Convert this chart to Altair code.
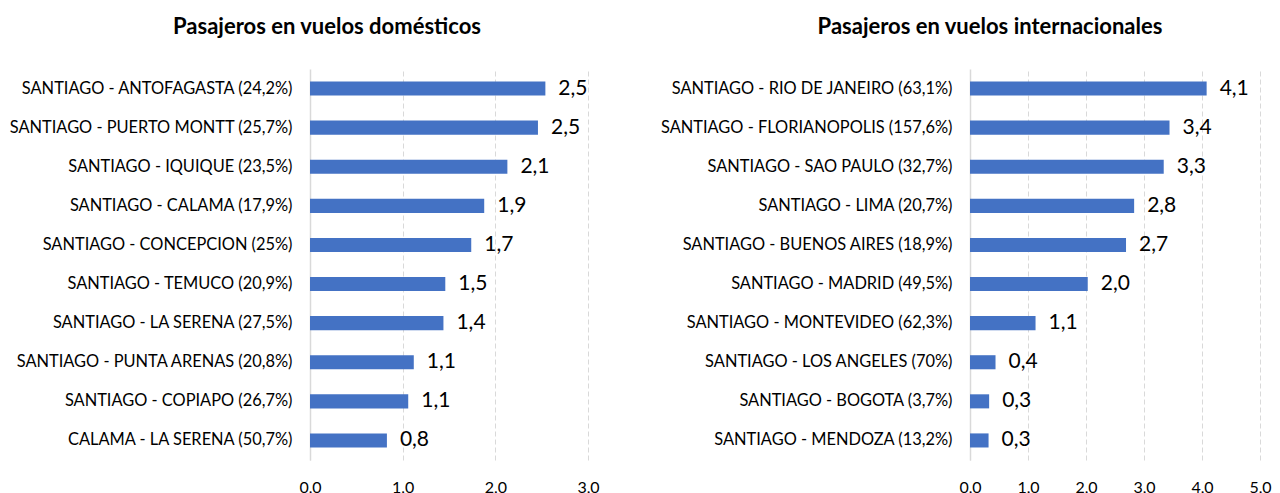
import altair as alt
import pandas as pd

dom_routes = [
    "SANTIAGO - ANTOFAGASTA (24,2%)",
    "SANTIAGO - PUERTO MONTT (25,7%)",
    "SANTIAGO - IQUIQUE (23,5%)",
    "SANTIAGO - CALAMA (17,9%)",
    "SANTIAGO - CONCEPCION (25%)",
    "SANTIAGO - TEMUCO (20,9%)",
    "SANTIAGO - LA SERENA (27,5%)",
    "SANTIAGO - PUNTA ARENAS (20,8%)",
    "SANTIAGO - COPIAPO (26,7%)",
    "CALAMA - LA SERENA (50,7%)",
]
dom_values = [2.54, 2.46, 2.13, 1.88, 1.74, 1.46, 1.44, 1.12, 1.06, 0.83]

int_routes = [
    "SANTIAGO - RIO DE JANEIRO (63,1%)",
    "SANTIAGO - FLORIANOPOLIS (157,6%)",
    "SANTIAGO - SAO PAULO (32,7%)",
    "SANTIAGO - LIMA (20,7%)",
    "SANTIAGO - BUENOS AIRES (18,9%)",
    "SANTIAGO - MADRID (49,5%)",
    "SANTIAGO - MONTEVIDEO (62,3%)",
    "SANTIAGO - LOS ANGELES (70%)",
    "SANTIAGO - BOGOTA (3,7%)",
    "SANTIAGO - MENDOZA (13,2%)",
]
int_values = [4.08, 3.44, 3.34, 2.83, 2.69, 2.03, 1.13, 0.44, 0.33, 0.32]

dom_title = "Pasajeros en vuelos domésticos"
int_title = "Pasajeros en vuelos internacionales"

FONT = "Lato"


def panel(routes, values, title, xmax, width, extent, dx):
    df = pd.DataFrame({
        "ruta": routes,
        "valor": values,
        "etiqueta": [f"{v:.1f}".replace(".", ",") for v in values],
    })
    y = alt.Y(
        "ruta:N", sort=routes, title=None,
        scale=alt.Scale(paddingInner=0.64, paddingOuter=0.32),
        axis=alt.Axis(labelFont=FONT, labelFontSize=16.4, labelColor="#000000",
                      labelPadding=18, ticks=False, domain=True,
                      domainColor="#d9d9d9", domainWidth=1.5, grid=False,
                      minExtent=extent, maxExtent=extent, labelLimit=400),
    )
    x = alt.X(
        "valor:Q", title=None,
        scale=alt.Scale(domain=[0, xmax], nice=False),
        axis=alt.Axis(values=list(range(xmax + 1)),
                      labelExpr="replace(format(datum.value, '.1f'), '.', ',')",
                      labelFont=FONT, labelFontSize=16, labelColor="#000000",
                      labelPadding=19, labelFlush=False, ticks=False,
                      domain=False, grid=True, gridColor="#d9d9d9",
                      gridDash=[5, 3], gridWidth=1),
    )
    base = alt.Chart(df).encode(y=y, x=x)
    bars = base.mark_bar(color="#4472C4")
    text = base.mark_text(align="left", baseline="middle", dx=13, fontSize=21,
                          font=FONT, color="#000000").encode(text="etiqueta:N")
    return (bars + text).properties(
        width=width, height=391,
        title=alt.TitleParams(title, font=FONT, fontSize=22, fontWeight="bold",
                              color="#000000", anchor="middle", offset=30, dx=dx),
    )


left = panel(dom_routes, dom_values, dom_title, 3, 278, 302, -122)
right = panel(int_routes, int_values, int_title, 5, 290, 300, -125)

chart = alt.hconcat(left, right, spacing=382, bounds="flush").properties(
    padding={"left": 0, "top": 8, "right": 0, "bottom": 0}
).configure_view(stroke=None)

chart.save("out.html", embed_options={"renderer": "svg", "actions": False})
